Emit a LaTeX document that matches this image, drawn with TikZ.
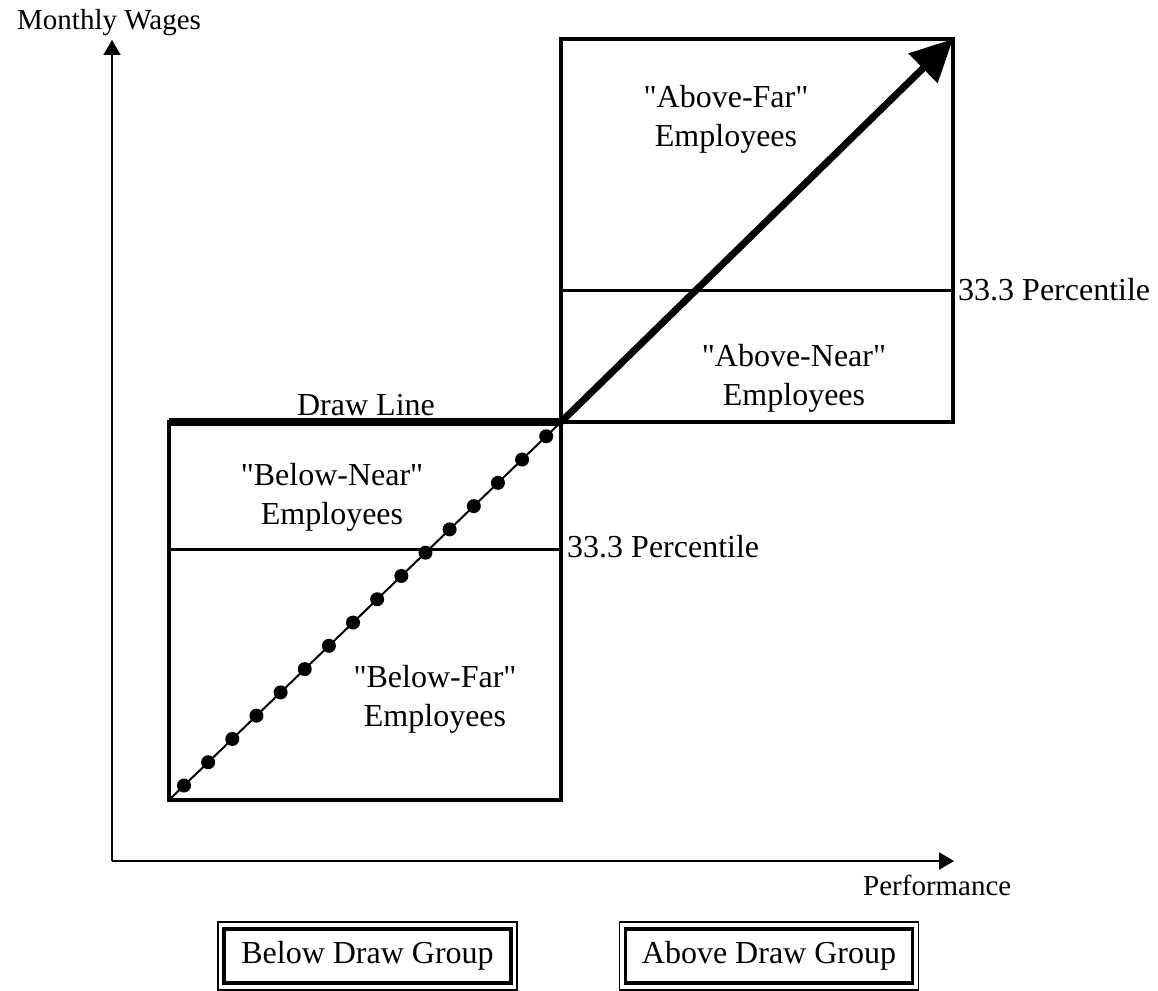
\documentclass[tikz,border=0pt]{standalone}
\usepackage{fontspec}
\setmainfont{Liberation Serif}
\usetikzlibrary{arrows.meta,calc}

\begin{document}
\begin{tikzpicture}[
  x=1pt,y=-1pt,
  region/.style={line width=3.5pt},
  split/.style={line width=3pt},
  axis/.style={line width=2pt,-{Triangle[length=15pt,width=17pt]}},
  lbl/.style={font=\fontsize{32}{39}\selectfont,align=center,inner sep=0pt},
  axlbl/.style={font=\fontsize{29}{34}\selectfont,inner sep=0pt,anchor=base west},
  grp/.style={draw,line width=3.5pt,outer sep=0pt,minimum width=287pt,minimum height=54pt,
    font=\fontsize{32}{39}\selectfont},
  dot/.style={circle,fill,inner sep=0pt,minimum size=14pt}
]
\useasboundingbox (0,0) rectangle (1158,990);

% axes
\coordinate (o) at (112,861);
\coordinate (wtop) at (112,40);
\coordinate (ptip) at (954,861);
\draw[axis] (o) -- (wtop);
\draw[axis] (o) -- (ptip);
\node[axlbl] (wages) at (17,30) {Monthly Wages};
\node[axlbl] (perf) at (863,895) {Performance};

% the two groups of employees
\coordinate (ll) at (169,800);
\coordinate (cross) at (561,422);
\coordinate (ur) at (953,39);
\draw[region] (ll) rectangle (cross);
\draw[region] (cross) rectangle (ur);
\draw[split] (169,549) -- (561,549);
\draw[split] (561,290) -- (953,290);
\node[lbl,anchor=base west] (pctlow) at (567,557) {33.3 Percentile};
\node[lbl,anchor=base west] (pcthigh) at (958,300) {33.3 Percentile};

\node[lbl] (abovefar) at (726,119) {\textquotedbl Above-Far\textquotedbl\\Employees};
\node[lbl] (abovenear) at (794,378) {\textquotedbl Above-Near\textquotedbl\\Employees};
\node[lbl] (belownear) at (332,497) {\textquotedbl Below-Near\textquotedbl\\Employees};
\node[lbl] (belowfar) at (435,699) {\textquotedbl Below-Far\textquotedbl\\Employees};

% draw line and pay line
\coordinate (dl) at (169,422);
\draw[line width=7.5pt] (dl) -- (cross);
\node[lbl,anchor=base] (drawlbl) at (366,415) {Draw Line};
\draw[line width=2pt] (ll) -- (cross);
\foreach \i in {0,...,15}
  \node[dot] (d\i) at ($(ll)!{0.0383+0.0616*\i}!(cross)$) {};
\draw[line width=7pt,-{Triangle[length=42pt,width=40pt]}] (cross) -- (ur);

% group boxes
\node[grp] (bdg) at (367.5,956) {Below Draw Group};
\node[grp] (adg) at (769,956) {Above Draw Group};
\foreach \g in {bdg,adg}
  \draw[line width=1.8pt] ([xshift=-6pt,yshift=-7pt]\g.south west) rectangle ([xshift=6pt,yshift=7pt]\g.north east);
\end{tikzpicture}
\end{document}
